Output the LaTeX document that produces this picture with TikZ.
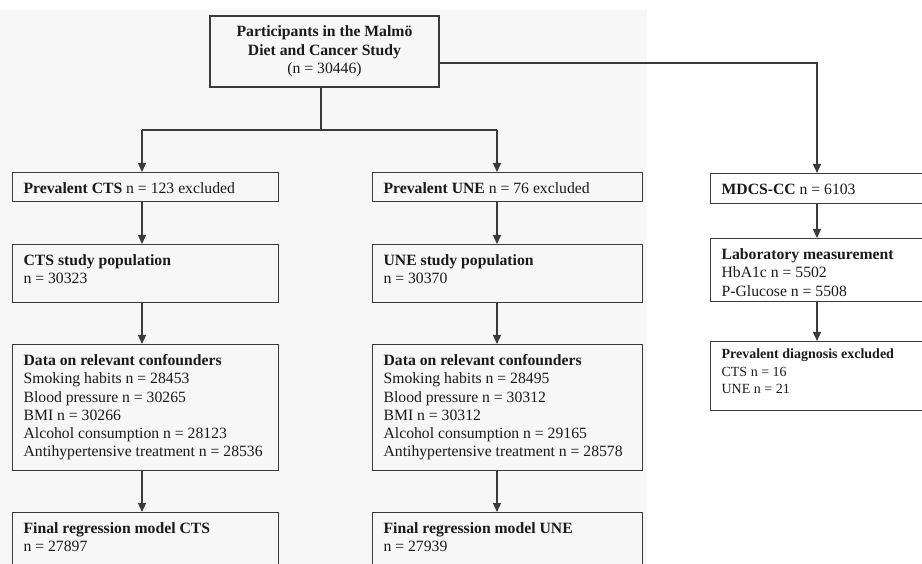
\documentclass[tikz,border=0pt]{standalone}
\usepackage{fontspec}
\setmainfont{Liberation Serif}
\usetikzlibrary{arrows.meta}
\definecolor{lc}{HTML}{3A3A3A}
\definecolor{bg}{HTML}{F7F7F7}
\definecolor{tc}{HTML}{1A1A1A}
\newcommand{\tbox}[3]{\parbox[c][#1pt][t]{#2pt}{\fontsize{15.7}{18.3}\selectfont\raggedright\leftskip=11pt\parindent=0pt\vspace*{8pt}\strut #3}}
\newcommand{\tboxs}[3]{\parbox[c][#1pt][t]{#2pt}{\fontsize{14}{17.5}\selectfont\raggedright\leftskip=11pt\parindent=0pt\vspace*{5pt}\strut #3}}
\begin{document}
\begin{tikzpicture}[x=1pt,y=-1pt,
  box/.style={draw=lc, line width=1.2pt, inner sep=0pt, anchor=north west, text=tc},
  conn/.style={draw=lc, line width=1.2pt},
  arr/.style={conn, -{Triangle[length=9pt,width=8pt]}}]
\useasboundingbox (0,0) rectangle (922,564);
\clip (0,0) rectangle (922,564);
\fill[white] (0,0) rectangle (922,564);
\fill[bg] (0,10) rectangle (647,564);
\node[draw=lc, line width=1.2pt, text=tc, minimum width=229pt, minimum height=71pt, align=center, font=\fontsize{15.7}{18.3}\selectfont] (top) at (324.5,51.5) {\textbf{Participants in the Malmö}\\\textbf{Diet and Cancer Study}\\(n = 30446)};
% CTS column
\node[box] (pc) at (12,172) {\tbox{29}{266}{\textbf{Prevalent CTS} n = 123 excluded}};
\node[box] (cs) at (12,244) {\tbox{58}{266}{\textbf{CTS study population}\\n = 30323}};
\node[box] (cd) at (12,344) {\tbox{126}{266}{\textbf{Data on relevant confounders}\\Smoking habits n = 28453\\Blood pressure n = 30265\\BMI n = 30266\\Alcohol consumption n = 28123\\Antihypertensive treatment n = 28536}};
\node[box] (cf) at (12,512) {\tbox{90}{266}{\textbf{Final regression model CTS}\\n = 27897}};
% UNE column
\node[box] (pu) at (372,172) {\tbox{29}{270}{\textbf{Prevalent UNE} n = 76 excluded}};
\node[box] (us) at (372,244) {\tbox{58}{270}{\textbf{UNE study population}\\n = 30370}};
\node[box] (ud) at (372,344) {\tbox{126}{270}{\textbf{Data on relevant confounders}\\Smoking habits n = 28495\\Blood pressure n = 30312\\BMI n = 30312\\Alcohol consumption n = 29165\\Antihypertensive treatment n = 28578}};
\node[box] (uf) at (372,512) {\tbox{90}{270}{\textbf{Final regression model UNE}\\n = 27939}};
% MDCS column
\node[box] (mc) at (710,173) {\tbox{30}{220}{\textbf{MDCS-CC} n = 6103}};
\node[box] (lab) at (710,238) {\tbox{63}{220}{\textbf{Laboratory measurement}\\HbA1c n = 5502\\P-Glucose n = 5508}};
\node[box] (pd) at (710,341) {\tboxs{69}{220}{\textbf{Prevalent diagnosis excluded}\\CTS n = 16\\UNE n = 21}};
% connectors
\coordinate (xL) at (142,0);
\coordinate (xM) at (497,0);
\coordinate (xR) at (817,0);
\coordinate (bus) at (321,130);
\draw[conn] ([xshift=-3.5pt]top.south) -- (bus);
\draw[conn] (bus -| xL) -- (bus -| xM);
\draw[arr] (bus -| xL) -- (xL |- pc.north);
\draw[arr] (bus -| xM) -- (xM |- pu.north);
\draw[arr] ([yshift=-11.5pt]top.east) -| (xR |- mc.north);
\draw[arr] (xL |- pc.south) -- (xL |- cs.north);
\draw[arr] (xL |- cs.south) -- (xL |- cd.north);
\draw[arr] (xL |- cd.south) -- (xL |- cf.north);
\draw[arr] (xM |- pu.south) -- (xM |- us.north);
\draw[arr] (xM |- us.south) -- (xM |- ud.north);
\draw[arr] (xM |- ud.south) -- (xM |- uf.north);
\draw[arr] (xR |- mc.south) -- (xR |- lab.north);
\draw[arr] (xR |- lab.south) -- (xR |- pd.north);
\end{tikzpicture}
\end{document}
